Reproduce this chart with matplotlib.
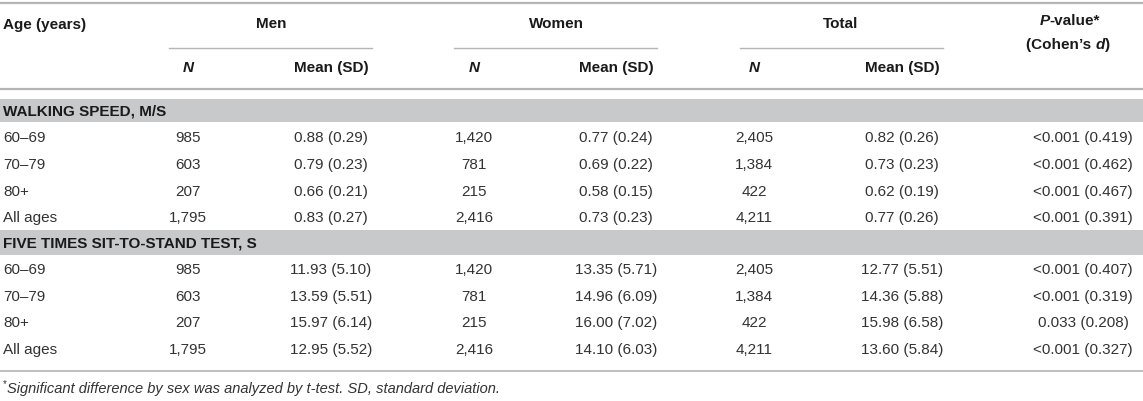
import matplotlib
matplotlib.use("Agg")
import matplotlib.pyplot as plt

plt.rcParams['font.family'] = ['Liberation Sans', 'DejaVu Sans']

# table values
ages = ["60–69", "70–79", "80+", "All ages"]
sections = ["WALKING SPEED, M/S", "FIVE TIMES SIT-TO-STAND TEST, S"]

men_n = [985, 603, 207, 1795]
women_n = [1420, 781, 215, 2416]
total_n = [2405, 1384, 422, 4211]

walk_men = [(0.88, 0.29), (0.79, 0.23), (0.66, 0.21), (0.83, 0.27)]
walk_women = [(0.77, 0.24), (0.69, 0.22), (0.58, 0.15), (0.73, 0.23)]
walk_total = [(0.82, 0.26), (0.73, 0.23), (0.62, 0.19), (0.77, 0.26)]
walk_p = ["<0.001", "<0.001", "<0.001", "<0.001"]
walk_d = [0.419, 0.462, 0.467, 0.391]

sit_men = [(11.93, 5.10), (13.59, 5.51), (15.97, 6.14), (12.95, 5.52)]
sit_women = [(13.35, 5.71), (14.96, 6.09), (16.00, 7.02), (14.10, 6.03)]
sit_total = [(12.77, 5.51), (14.36, 5.88), (15.98, 6.58), (13.60, 5.84)]
sit_p = ["<0.001", "<0.001", "0.033", "<0.001"]
sit_d = [0.407, 0.319, 0.208, 0.327]

groups = ["Men", "Women", "Total"]
footnote = "Significant difference by sex was analyzed by t-test. SD, standard deviation."

W, H = 1143, 401
fig = plt.figure(figsize=(W / 100, H / 100), dpi=100)
ax = fig.add_axes([0, 0, 1, 1])
ax.set_xlim(0, W)
ax.set_ylim(H, 0)
ax.axis('off')

txt = '#333333'
hdr = '#1a1a1a'
line_c = '#b4b4b4'
band_c = '#c8c9cb'
fs = 11

renderer = fig.canvas.get_renderer()


def runs(x, y, parts, ha='left', size=fs, color=hdr):
    # draw a list of (text, weight, style) pieces side by side
    objs = []
    widths = []
    for s, w, st in parts:
        t = ax.text(0, y, s, fontsize=size, fontweight=w, fontstyle=st,
                    color=color, va='center', ha='left')
        bb = t.get_window_extent(renderer)
        objs.append(t)
        widths.append(bb.width)
    total = sum(widths)
    if ha == 'center':
        x0 = x - total / 2
    elif ha == 'right':
        x0 = x - total
    else:
        x0 = x
    for t, wd in zip(objs, widths):
        t.set_x(x0)
        x0 += wd


# horizontal rules
ax.plot([0, W], [3, 3], color=line_c, lw=1.6)
ax.plot([0, W], [89, 89], color=line_c, lw=1.6)
ax.plot([0, W], [371, 371], color=line_c, lw=1.2)

left = 3
n_x = [188, 474, 754]
m_x = [331, 616, 902]
p_x = 1083
grp_x = [271, 556, 841]
under = [(169, 372), (454, 657), (740, 943)]

ax.text(left, 25, "Age (years)", fontsize=fs, fontweight='bold', color=hdr, va='center')
for g, gx, (u0, u1), nx_, mx in zip(groups, grp_x, under, n_x, m_x):
    ax.text(gx, 24, g, fontsize=fs, fontweight='bold', color=hdr, va='center', ha='center')
    ax.plot([u0, u1], [48, 48], color=line_c, lw=1.0)
    ax.text(nx_, 68, "N", fontsize=fs, fontweight='bold', fontstyle='italic',
            color=hdr, va='center', ha='center')
    ax.text(mx, 68, "Mean (SD)", fontsize=fs, fontweight='bold', color=hdr,
            va='center', ha='center')

runs(1070, 21, [("P", 'bold', 'italic'), ("-value*", 'bold', 'normal')], ha='center')
runs(1068, 45, [("(Cohen\u2019s ", 'bold', 'normal'), ("d", 'bold', 'italic'),
                (")", 'bold', 'normal')], ha='center')

blocks = [
    (sections[0], (99, 122), [138, 165, 192, 218],
     [walk_men, walk_women, walk_total], walk_p, walk_d),
    (sections[1], (230, 255), [270, 297, 323, 350],
     [sit_men, sit_women, sit_total], sit_p, sit_d),
]
ns = [men_n, women_n, total_n]

for title, (b0, b1), ys, means, pv, dv in blocks:
    ax.add_patch(plt.Rectangle((0, b0), W, b1 - b0, color=band_c, lw=0))
    ax.text(left, (b0 + b1) / 2 + 0.5, title, fontsize=fs, fontweight='bold',
            color=hdr, va='center')
    for i, y in enumerate(ys):
        ax.text(left, y, ages[i], fontsize=fs, color=txt, va='center')
        for k in range(3):
            ax.text(n_x[k], y, f"{ns[k][i]:,}", fontsize=fs, color=txt,
                    va='center', ha='center')
            m, sd = means[k][i]
            ax.text(m_x[k], y, f"{m:.2f} ({sd:.2f})", fontsize=fs, color=txt,
                    va='center', ha='center')
        ax.text(p_x, y, f"{pv[i]} ({dv[i]:.3f})", fontsize=fs, color=txt,
                va='center', ha='center')

ax.text(left, 384, "*", fontsize=7, color=txt, va='center')
ax.text(left + 4, 389, footnote, fontsize=10.5, fontstyle='italic', color=txt, va='center')

fig.savefig("out.png", dpi=100)
